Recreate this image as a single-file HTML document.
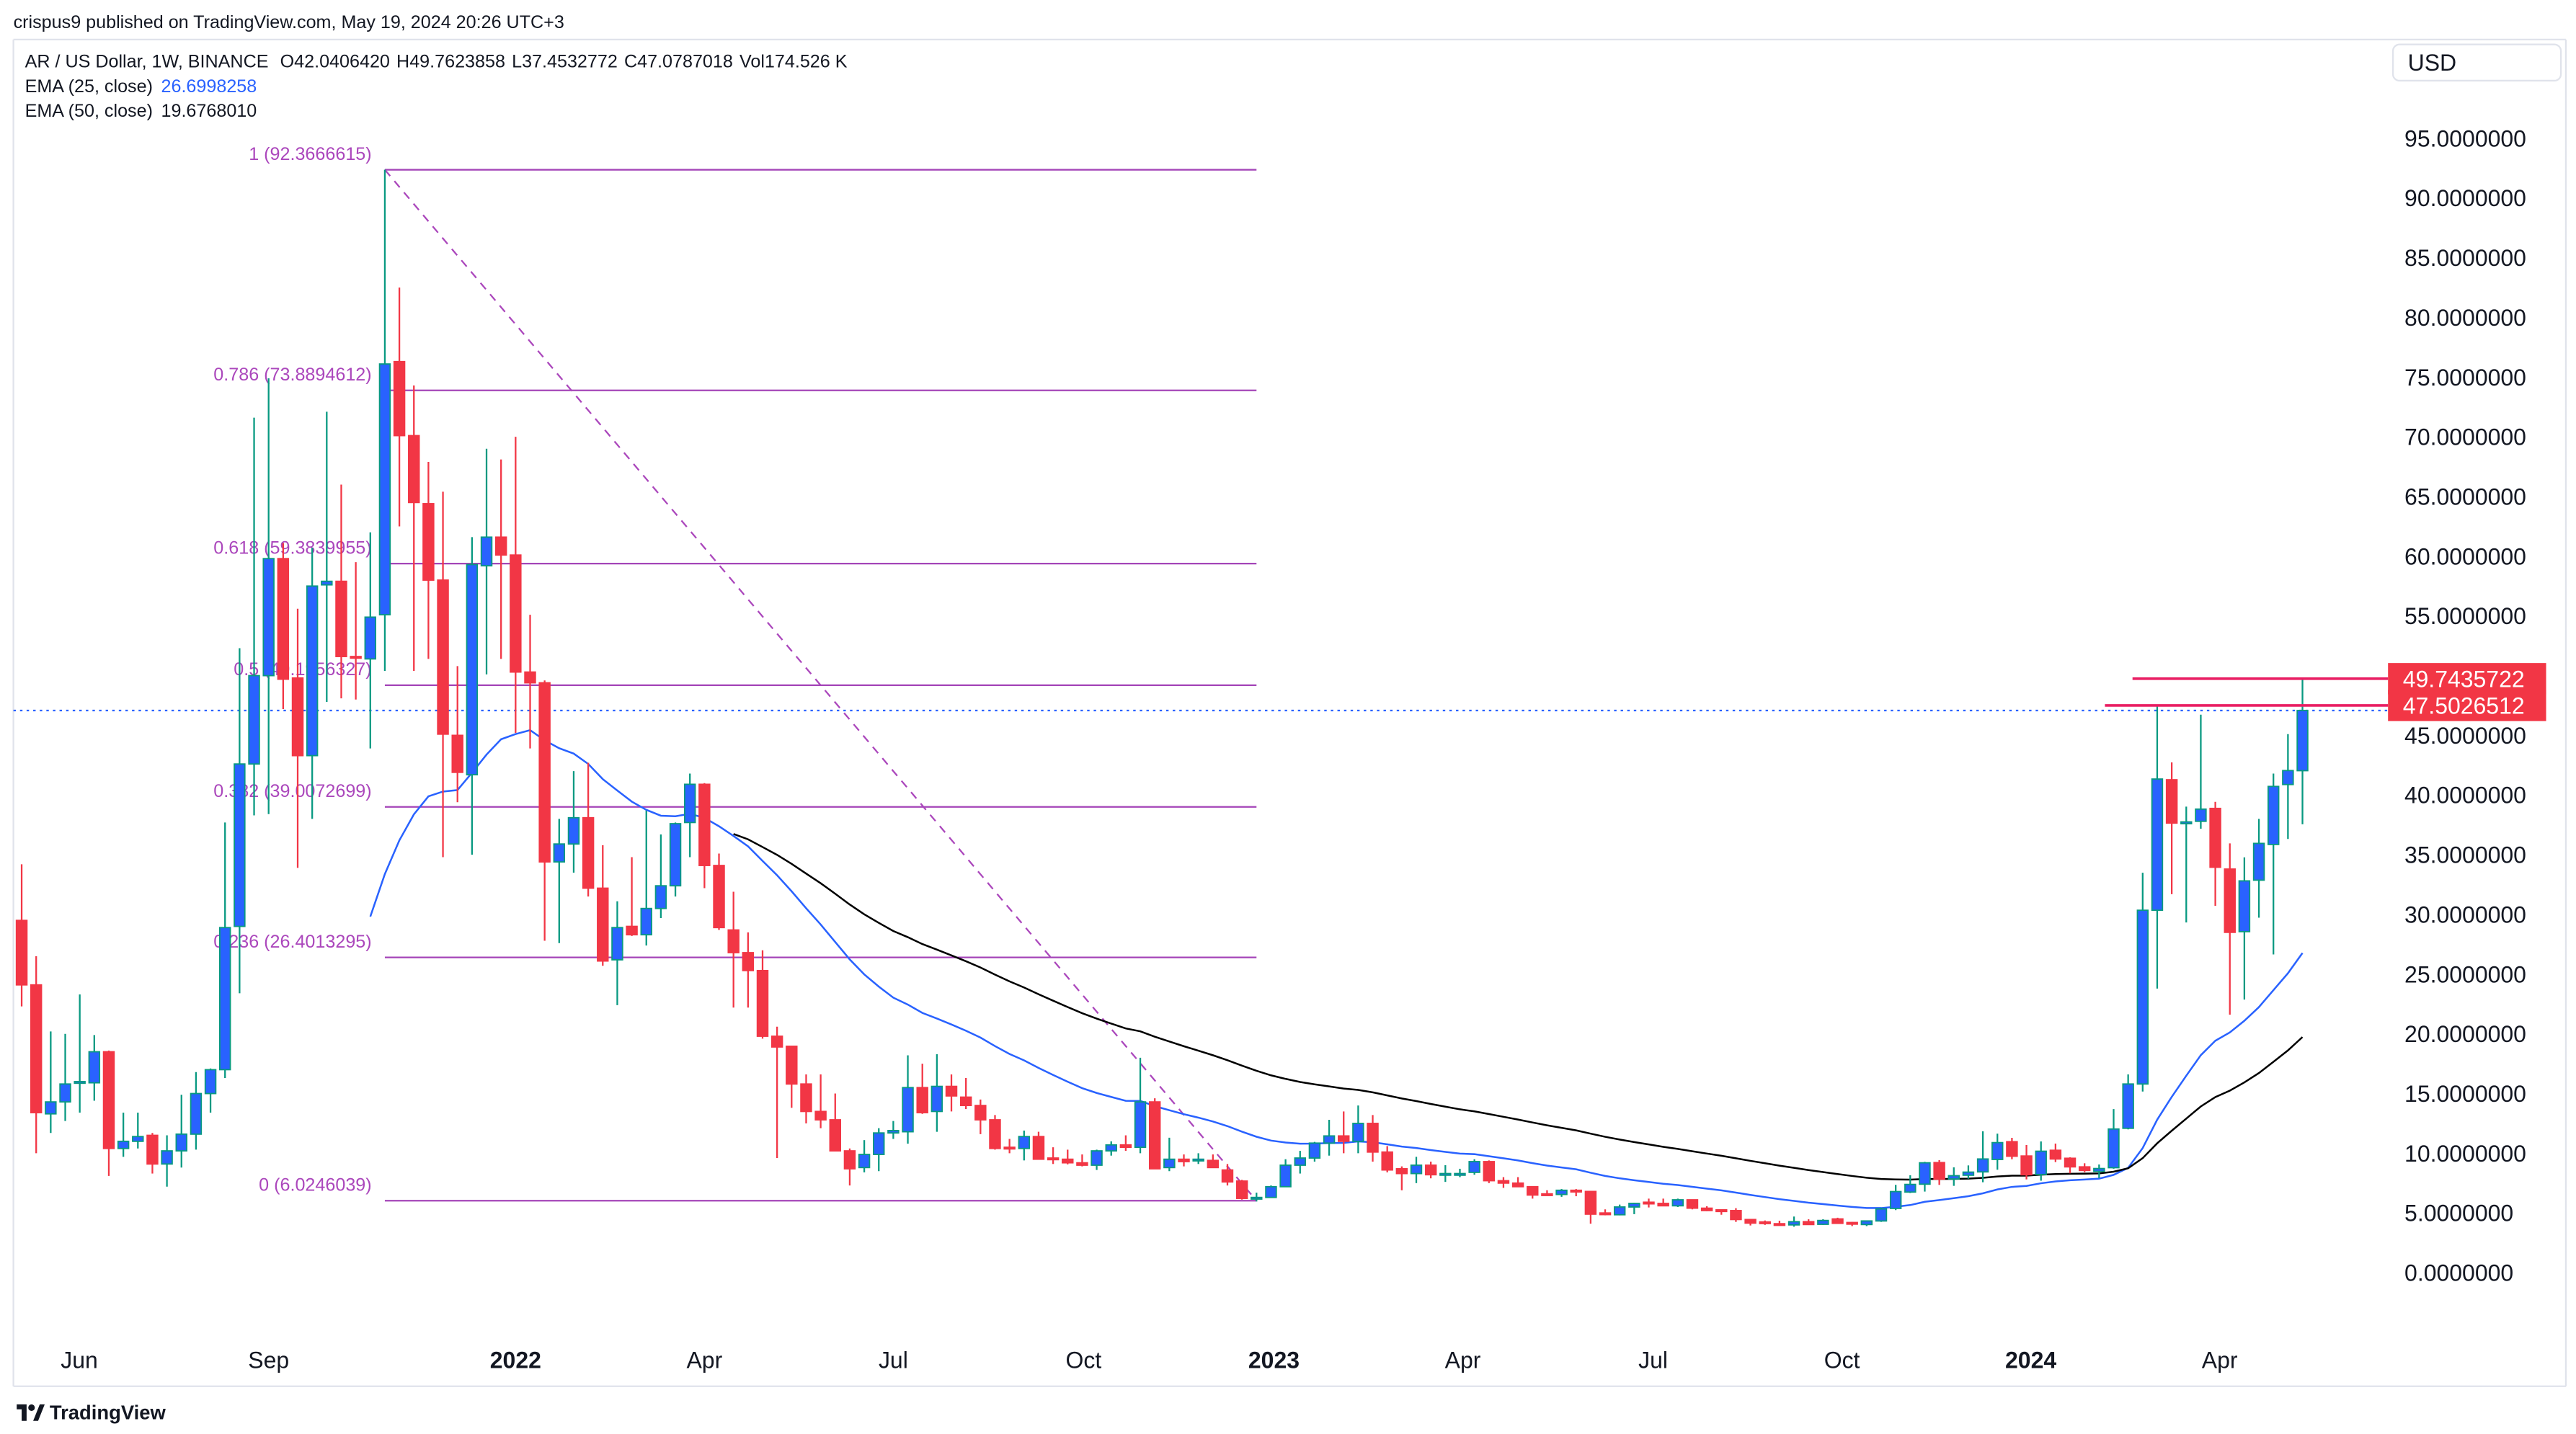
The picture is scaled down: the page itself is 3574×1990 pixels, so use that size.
<!DOCTYPE html>
<html><head><meta charset="utf-8"><style>
html,body{margin:0;padding:0;background:#fff;}
svg{display:block;font-family:"Liberation Sans",Arial,sans-serif;}
</style></head><body>
<svg id="chart" width="3574" height="1990" viewBox="0 0 1564 871" xmlns="http://www.w3.org/2000/svg">
<rect x="0" y="0" width="1564" height="871" fill="#ffffff"/>
<text x="8" y="17" font-size="11" fill="#131722">crispus9 published on TradingView.com, May 19, 2024 20:26 UTC+3</text>
<line x1="8" y1="24" x2="8" y2="842" stroke="#e0e3eb" stroke-width="1"/>
<line x1="8" y1="842" x2="1558" y2="842" stroke="#e0e3eb" stroke-width="1"/>
<line x1="8" y1="24" x2="1558" y2="24" stroke="#e0e3eb" stroke-width="1"/>
<line x1="1558" y1="24" x2="1558" y2="842" stroke="#e0e3eb" stroke-width="1"/>
<g font-size="11" fill="#131722">
<text x="15" y="41">AR / US Dollar, 1W, BINANCE <tspan dx="4">O</tspan><tspan>42.0406420</tspan><tspan dx="4">H</tspan><tspan>49.7623858</tspan><tspan dx="4">L</tspan><tspan>37.4532772</tspan><tspan dx="4">C</tspan><tspan>47.0787018</tspan><tspan dx="4">Vol</tspan><tspan>174.526 K</tspan></text>
<text x="15" y="56">EMA (25, close) <tspan dx="2" fill="#2962ff">26.6998258</tspan></text>
<text x="15" y="71">EMA (50, close) <tspan dx="2" fill="#131722">19.6768010</tspan></text>
</g>
<g>
<rect x="1453" y="27" width="102" height="22" rx="4" fill="#fff" stroke="#e0e3eb"/>
<text x="1462" y="43" font-size="14" fill="#131722">USD</text>
</g>
<g id="fib"></g>
<g id="ema"></g>
<g id="candles"></g>
<g id="axis"></g>
<g id="marks"></g>
<g>
<path d="M10 853 h6 v10 h-3 v-7 h-3 z" fill="#131722"/>
<circle cx="19" cy="855" r="2" fill="#131722"/>
<path d="M20 863 l4 -10 h3 l-4 10 z" fill="#131722"/>
<text x="30" y="862" font-size="12" font-weight="bold" fill="#131722">TradingView</text>
</g>
</svg>
<script>
const opens  = [29.5,24.1,13.3,14.3,15.9,15.9,18.5,10.4,11.0,11.5,9.1,10.2,11.6,15.0,17.0,29.0,42.6,50.0,59.8,49.8,43.3,57.6,57.9,51.6,51.4,55.1,76.3,70.1,64.4,58.0,45.0,41.7,59.2,61.6,60.1,50.3,49.4,34.4,35.9,38.1,32.2,26.2,29.0,28.3,30.5,32.4,37.7,40.9,34.1,28.7,26.8,25.3,19.8,18.96,15.8,13.5,12.8,10.2,8.8,9.9,11.7,11.8,15.5,13.5,15.6,14.7,14.0,12.8,10.5,10.4,11.4,9.6,9.5,9.2,9.0,10.2,10.7,10.5,14.3,8.8,9.5,9.4,9.4,8.6,7.67,6.2,6.3,7.2,9.0,9.6,10.85,11.45,11.0,12.5,10.1,8.7,8.3,9.0,8.2,8.2,8.4,9.3,7.7,7.5,7.2,6.6,6.55,6.9,6.8,5.0,4.85,5.5,5.9,5.8,5.6,6.1,5.4,5.26,5.2,4.45,4.25,4.1,4.0,4.27,4.05,4.5,4.2,4.03,4.33,5.38,6.75,7.41,9.22,7.85,8.16,8.44,9.48,10.97,9.77,8.22,10.25,9.58,8.86,8.48,8.79,12.09,15.8,30.35,41.28,37.6,37.8,38.88,33.8,28.56,32.87,35.86,40.88,42.04];
const highs  = [34.2,26.5,20.2,20.0,23.3,19.9,18.6,13.4,13.4,11.7,11.5,14.9,16.8,17.1,37.7,52.3,71.6,74.9,61.1,55.6,60.7,72.1,66.0,59.5,62.0,92.37,82.5,74.3,67.9,65.4,50.8,61.6,69.0,68.1,70.0,55.1,49.6,38.0,42.0,42.7,35.8,31.1,34.8,38.7,36.7,37.7,41.8,41.0,35.1,31.9,28.5,27.0,20.6,19.0,16.6,16.6,15.0,10.4,11.1,12.1,12.7,18.2,17.5,18.3,16.6,16.3,14.5,13.2,11.2,11.9,11.8,10.5,10.3,9.9,10.3,11.0,11.5,18.0,14.6,11.3,9.9,10.0,9.9,9.1,7.77,6.7,7.3,9.5,10.2,10.95,12.8,13.5,14.0,13.2,10.6,8.9,9.7,9.3,9.0,8.7,9.5,9.4,8.0,8.0,7.2,6.9,7.0,7.0,6.8,5.3,5.7,5.86,6.2,6.2,6.2,6.1,5.56,5.28,5.4,4.5,4.37,4.35,4.7,4.47,4.47,4.6,4.25,4.33,5.44,7.35,8.16,9.28,9.42,8.82,8.98,11.84,11.64,11.29,10.69,10.99,10.81,9.66,9.16,9.06,13.7,16.6,33.49,47.59,42.73,39.03,46.73,39.43,35.95,34.78,38.0,41.8,45.1,49.76];
const lows   = [22.3,10.0,11.7,12.7,13.4,14.4,8.1,9.7,10.4,8.3,7.2,8.8,10.3,13.4,16.3,23.4,38.3,38.4,47.2,33.9,38.0,47.8,48.1,48.0,43.9,50.4,62.5,50.4,51.4,34.8,39.4,35.0,50.1,51.4,45.2,43.9,27.8,27.6,33.5,31.5,25.7,22.4,28.2,27.4,29.7,31.5,34.8,32.2,28.7,22.2,22.2,19.6,9.6,13.8,12.5,12.1,10.2,7.3,8.4,8.5,11.2,10.8,13.3,11.8,13.5,13.7,11.6,10.3,10.0,9.4,9.5,9.1,9.07,8.9,8.6,9.8,10.2,10.0,8.7,8.5,8.9,9.1,8.8,7.3,6.12,5.96,6.26,7.2,8.3,9.3,9.8,10.0,10.0,9.3,8.4,6.9,7.5,7.9,7.6,8.0,8.2,7.5,7.1,7.2,6.2,6.5,6.35,6.4,4.1,4.8,4.8,4.9,5.46,5.6,5.5,5.3,5.15,4.85,4.25,3.95,4.0,3.95,3.85,4.03,4.0,4.1,3.9,3.9,4.25,5.24,6.67,6.79,7.35,7.27,7.87,7.57,8.62,9.5,7.81,7.7,9.26,8.32,8.42,7.92,8.7,12.0,15.17,23.79,31.7,29.33,37.18,30.72,21.6,22.87,29.73,26.65,36.32,37.55];
const closes = [24.1,13.4,14.3,15.8,16.0,18.5,10.4,11.0,11.4,9.1,10.2,11.6,15.0,17.0,28.9,42.6,50.0,59.8,49.7,43.3,57.5,57.9,51.6,51.5,54.9,76.1,70.1,64.5,58.0,45.1,41.9,59.3,61.6,60.1,50.3,49.4,34.4,35.9,38.1,32.2,26.1,28.9,28.3,30.5,32.4,37.6,40.9,34.1,28.9,26.8,25.3,19.8,18.9,15.8,13.5,12.8,10.2,8.7,9.9,11.7,11.9,15.5,13.4,15.6,14.8,14.0,12.8,10.4,10.4,11.4,9.5,9.5,9.2,9.0,10.2,10.7,10.5,14.3,8.7,9.5,9.3,9.5,8.8,7.6,6.22,6.3,7.2,9.0,9.6,10.85,11.45,11.0,12.5,10.1,8.6,8.3,9.0,8.2,8.3,8.3,9.3,7.7,7.5,7.2,6.5,6.55,6.9,6.8,4.9,4.9,5.5,5.8,5.88,5.6,6.1,5.4,5.2,5.18,4.45,4.15,4.2,4.03,4.27,4.03,4.37,4.13,4.16,4.33,5.34,6.79,7.39,9.2,7.83,8.12,8.42,9.52,10.89,9.75,8.2,10.17,9.52,8.86,8.56,8.72,12.03,15.8,30.35,41.34,37.65,37.75,38.82,33.95,28.5,32.81,35.95,40.72,42.05,47.08];
const priceTicks = [0,5,10,15,20,25,30,35,40,45,50,55,60,65,70,75,80,85,90,95];
const timeLabels = ["Jun","Sep","2022","Apr","Jul","Oct","2023","Apr","Jul","Oct","2024","Apr"];
const timeLabelIdx = [3.97,17.0,34.0,47.0,60.0,73.1,86.2,99.2,112.3,125.3,138.3,151.3];
const fibRatios = [1,0.786,0.618,0.5,0.382,0.236,0];
const fibHigh = 92.3666615, fibLow = 6.0246039;
const fibStartIdx = 25, fibEndIdx = 85;
const resistanceLevels = [49.7435722, 47.5026512];
const resistanceStartIdx = [145.3, 143.4];
const lastClose = 47.0787018;

const NS = "http://www.w3.org/2000/svg";
const xScale = i => 13 + i * 8.822;
const yScale = v => 773 - v * 7.2526;
function mk(tag, attrs, parent){const e=document.createElementNS(NS,tag);for(const k in attrs)e.setAttribute(k,attrs[k]);parent.appendChild(e);return e;}

const axis=document.getElementById('axis');
priceTicks.forEach(v=>{const t=mk('text',{x:1460,y:yScale(v)+5,'font-size':14,fill:'#131722'},axis);


t.textContent=v.toFixed(7);});
timeLabels.forEach((l,k)=>{const bold=/^\d{4}$/.test(l);const t=mk('text',{x:xScale(timeLabelIdx[k]),y:831,'font-size':14,fill:'#131722','text-anchor':'middle','font-weight':bold?'bold':'normal'},axis);


t.textContent=l;});

const fib=document.getElementById('fib');
const fx1=xScale(fibStartIdx), fx2=xScale(fibEndIdx);
fibRatios.forEach(r=>{const v=fibLow+(fibHigh-fibLow)*r;const y=yScale(v);
const ln=mk('line',{x1:fx1,y1:y,x2:fx2,y2:y,stroke:'#a445b8','stroke-width':1},fib);


const t=mk('text',{x:fx1-8,y:y-6,'font-size':11,fill:'#ab47bc','text-anchor':'end'},fib);


t.textContent=r+' ('+v.toFixed(7)+')';});
const dl=mk('line',{x1:fx1,y1:yScale(fibHigh),x2:xScale(fibEndIdx),y2:yScale(fibLow),stroke:'#ab47bc','stroke-width':1,'stroke-dasharray':'5,4'},fib);



const marks=document.getElementById('marks');
const pl=mk('line',{x1:8,y1:yScale(lastClose),x2:1450,y2:yScale(lastClose),stroke:'#2962ff','stroke-width':1,'stroke-dasharray':'1.5,2.5'},fib);



function ema(n){const out=[];let s=0;for(let i=0;i<closes.length;i++){if(i<n-1){s+=closes[i];out.push(null);}else if(i===n-1){s+=closes[i];out.push(s/n);}else{const a=2/(n+1);out.push(closes[i]*a+out[i-1]*(1-a));}}return out;}
const emaG=document.getElementById('ema');
[[25,'#2962ff','ema-25-line'],[50,'#000000','ema-50-line']].forEach(([n,c,name])=>{const e=ema(n);let d='';e.forEach((v,i)=>{if(v!==null)d+=(d?'L':'M')+xScale(i).toFixed(2)+' '+yScale(v).toFixed(2);});
const p=mk('path',{d:d,fill:'none',stroke:c,'stroke-width':1.1},emaG);

});

const cg=document.getElementById('candles');
const bw=6.4;
for(let i=0;i<closes.length;i++){const up=closes[i]>=opens[i];const x=xScale(i);
const g=mk('g',{},cg);


const wc=up?'#089981':'#f23645';
mk('line',{x1:x,y1:yScale(highs[i]),x2:x,y2:yScale(lows[i]),stroke:wc,'stroke-width':1},g);
const top=yScale(Math.max(opens[i],closes[i])), bot=yScale(Math.min(opens[i],closes[i]));
mk('rect',{x:x-bw/2,y:top,width:bw,height:Math.max(bot-top,1),fill:up?'#2962ff':'#f23645',stroke:up?'#089981':'#f23645','stroke-width':0.8},g);}

resistanceLevels.forEach((v,k)=>{const y=yScale(v);
const l=mk('line',{x1:xScale(resistanceStartIdx[k]),y1:y,x2:1450,y2:y,stroke:'#e91e63','stroke-width':1.6},marks);


const r=mk('rect',{x:1450,y:y-9.5,width:96,height:19,fill:'#f23645'},marks);


const t=mk('text',{x:1459,y:y+5,'font-size':14,fill:'#ffffff'},marks);


t.textContent=v.toFixed(7);});
</script>
</body></html>
